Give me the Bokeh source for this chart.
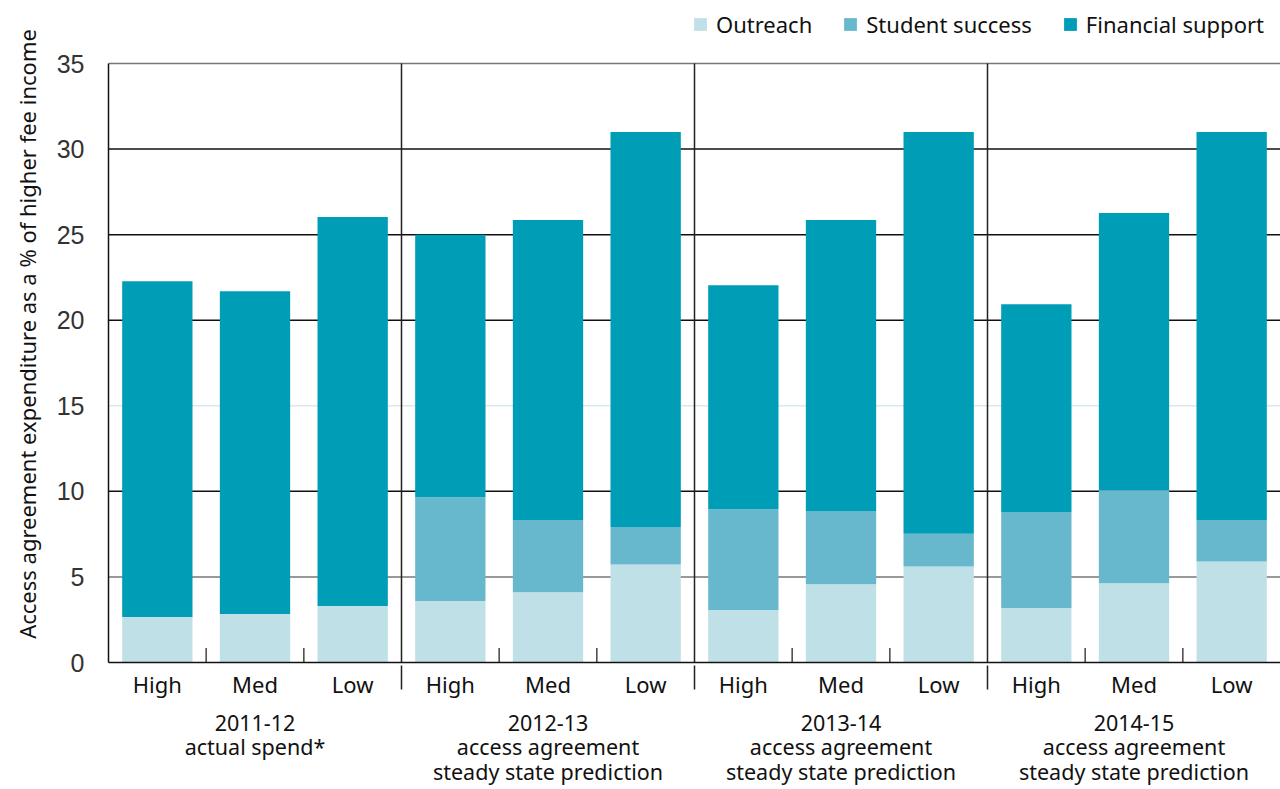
from bokeh.plotting import figure
from bokeh.models import (FactorRange, Range1d, Span, Legend, LegendItem, FixedTicker,
                          CategoricalAxis)
from bokeh.embed import file_html
from bokeh.resources import INLINE

# ---- data ----
groups = [
    "2011-12\nactual spend*",
    "2012-13\naccess agreement\nsteady state prediction",
    "2013-14\naccess agreement\nsteady state prediction",
    "2014-15\naccess agreement\nsteady state prediction",
]
levels = ["High", "Med", "Low"]
series = ["Outreach", "Student success", "Financial support"]

outreach = [2.66, 2.83, 3.30, 3.59, 4.10, 5.73, 3.07, 4.57, 5.61, 3.18, 4.63, 5.90]
student_success = [0.0, 0.0, 0.0, 6.07, 4.23, 2.19, 5.89, 4.28, 1.91, 5.61, 5.43, 2.43]
financial_support = [19.61, 18.86, 22.73, 15.33, 17.52, 23.08, 13.08, 17.00, 23.48, 12.15, 16.20, 22.67]

y_ticks = [0, 5, 10, 15, 20, 25, 30, 35]

colors = ["#c0e0e7", "#68b8cd", "#009db7"]

factors = [(g, l) for g in groups for l in levels]
data = {
    "x": factors,
    "Outreach": outreach,
    "Student success": student_success,
    "Financial support": financial_support,
}

y_max = y_ticks[-1]
y_top = 38.39  # headroom above the axis for the legend

p = figure(
    x_range=FactorRange(*factors, range_padding=0, group_padding=0, factor_padding=0),
    y_range=Range1d(0, y_top),
    width=1280, height=789,
    min_border_left=108, min_border_right=0, min_border_top=5, min_border_bottom=10,
    output_backend="svg", toolbar_location=None,
)
p.outline_line_color = None
p.background_fill_color = "white"

# horizontal grid lines
p.ygrid.grid_line_color = None
p.xgrid.grid_line_color = None
grid_colors = {35: "#777777", 15: "#d6eaf0", 5: "#777777", 0: None}
for t in y_ticks:
    c = grid_colors.get(t, "#111111")
    if c is None:
        continue
    p.add_layout(Span(location=t, dimension="width", line_color=c, line_width=1.5, level="underlay"))

renderers = p.vbar_stack(series, x="x", width=0.72, color=colors, source=data, line_color=None)

# group separators inside the frame
seps = [(g, "Low", 0.5) for g in groups[:-1]]
p.segment(x0=seps, y0=0, x1=seps, y1=y_max, line_color="#222222", line_width=1.5)
# small ticks between bars
minor = [(g, l, 0.5) for g in groups for l in levels[:2]]
p.segment(x0=minor, y0=0, x1=minor, y1=0.85, line_color="#444444", line_width=1.5)

# ---- x axis 1: level labels and short group separators ----
ax1 = p.xaxis[0]
ax1.major_tick_line_color = None
ax1.axis_line_color = "#111111"
ax1.axis_line_width = 1.5
ax1.major_label_text_font = "Noto Sans"
ax1.major_label_text_font_size = "22px"
ax1.major_label_text_color = "#111111"
ax1.major_label_standoff = 0
ax1.group_text_font_size = "0px"
ax1.group_text_color = None
ax1.separator_line_color = "#222222"
ax1.separator_line_width = 1.5

# ---- x axis 2: group labels ----
ax2 = CategoricalAxis()
ax2.axis_line_color = None
ax2.major_tick_line_color = None
ax2.major_label_text_font_size = "0px"
ax2.major_label_text_color = None
ax2.separator_line_color = None
ax2.major_label_standoff = 0
ax2.group_text_font = "Noto Sans"
ax2.group_text_font_size = "21.5px"
ax2.group_text_font_style = "normal"
ax2.group_text_color = "#111111"
ax2.group_text_line_height = 0.86
p.add_layout(ax2, "below")

# y axis
p.yaxis.ticker = FixedTicker(ticks=y_ticks)
p.yaxis.bounds = (0, y_max)
p.yaxis.axis_label = "Access agreement expenditure as a % of higher fee income"
p.yaxis.axis_label_text_font = "Noto Sans"
p.yaxis.axis_label_text_font_size = "22px"
p.yaxis.axis_label_text_font_style = "normal"
p.yaxis.axis_label_text_color = "#111111"
p.yaxis.axis_label_standoff = 12
p.yaxis.major_label_text_font = "Liberation Sans"
p.yaxis.major_label_text_font_size = "25px"
p.yaxis.major_label_text_color = "#333333"
p.yaxis.major_label_standoff = 18
p.yaxis.major_tick_line_color = None
p.yaxis.minor_tick_line_color = None
p.yaxis.axis_line_color = "#111111"
p.yaxis.axis_line_width = 1.5

legend = Legend(
    items=[LegendItem(label=s, renderers=[r]) for s, r in zip(series, renderers)],
    orientation="horizontal", location=(584, 623),
    glyph_width=16, glyph_height=16, label_standoff=8, spacing=30,
    label_text_font="Noto Sans", label_text_font_size="22px", label_text_color="#111111",
    border_line_color=None, background_fill_alpha=0, padding=0, margin=0,
)
p.add_layout(legend, "center")

open("out.html", "w").write(file_html(p, INLINE))
